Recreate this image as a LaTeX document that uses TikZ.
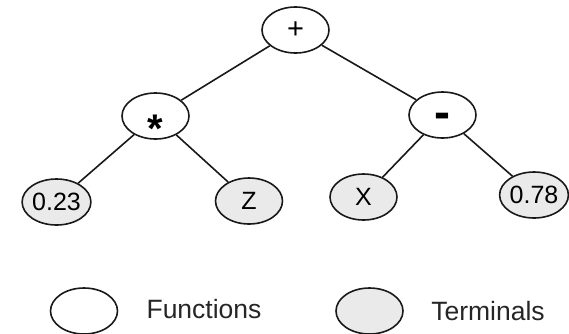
\documentclass[tikz,border=0pt]{standalone}
\usepackage{fontspec}
\setmainfont{Liberation Sans}
\usepackage[svgnames]{xcolor}
\usetikzlibrary{shapes.geometric, positioning}

\begin{document}
\begin{tikzpicture}[
    x=1pt, y=1pt,
    on grid,
    func/.style={ellipse, draw=black!90, line width=1.6pt, fill=white, minimum width=67pt, minimum height=46pt, inner sep=0pt, font=\fontsize{25}{25}\selectfont},
    term/.style={func, fill=Gainsboro!60},
    key_lbl/.style={inner sep=0pt, font=\fontsize{26.5}{26.5}\selectfont, text=black!85},
    branch/.style={line width=1.6pt, color=black!90}
    ]
    \useasboundingbox (0,0) rectangle (569,-333);

    % Nodes
    \node[func] (plus) at (295.5,-30) {\fontsize{29}{29}\selectfont +};
    \node[func, below left=86pt and 140pt of plus] (times) {\fontsize{40}{40}\selectfont\bfseries\raisebox{-26pt}[0pt][0pt]{*}};
    \node[func, below right=85pt and 147pt of plus] (minus) {\fontsize{48}{48}\selectfont\bfseries\raisebox{-13pt}[0pt][0pt]{-}};
    \node[term, below left=86pt and 99pt of times] (c023) {0.23};
    \node[term, below right=85pt and 93.5pt of times] (z) {Z};
    \node[term, below left=82pt and 79pt of minus] (x) {X};
    \node[term, below right=80pt and 91.5pt of minus] (c078) {0.78};

    % Legend
    \node[func, below right=109pt and 27.5pt of c023] (keyfunc) {};
    \node[term, right=285.5pt of keyfunc] (keyterm) {};
    \node[key_lbl, right=120pt of keyfunc, yshift=2pt] (keyfunc_lbl) {Functions};
    \node[key_lbl, right=118.5pt of keyterm] (keyterm_lbl) {Terminals};

    % Edges
    \draw[branch] (plus) -- (times);
    \draw[branch] (plus) -- (minus);
    \draw[branch] (times) -- (c023);
    \draw[branch] (times) -- (z);
    \draw[branch] (minus) -- (x);
    \draw[branch] (minus) -- (c078);
\end{tikzpicture}
\end{document}
